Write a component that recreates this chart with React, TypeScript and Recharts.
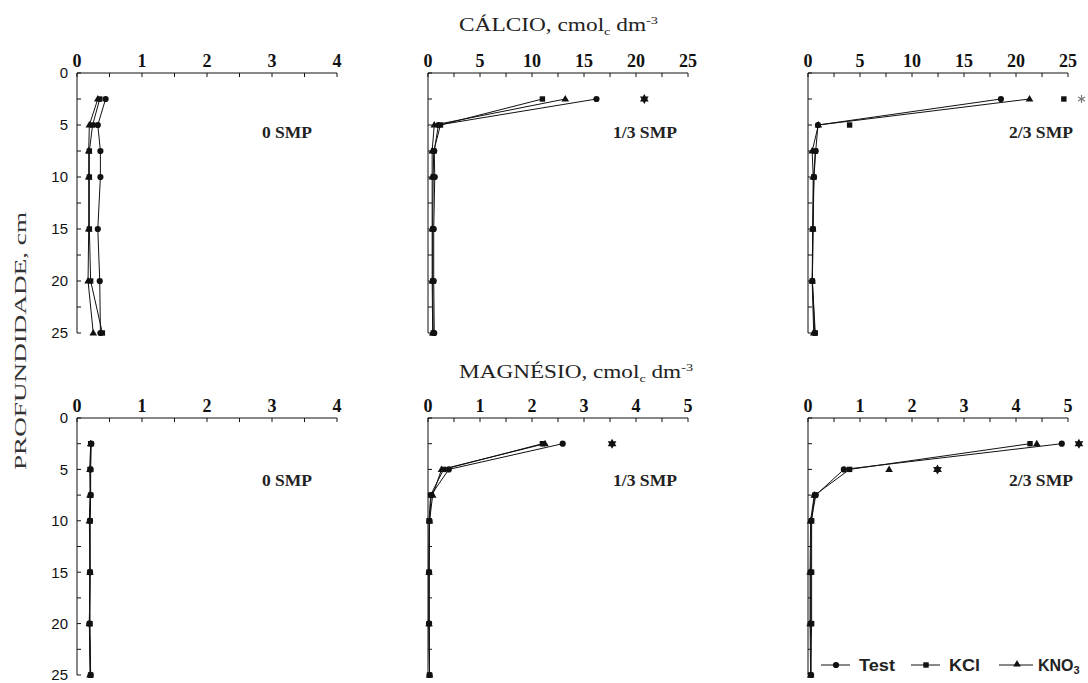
import React from 'react';
import { ScatterChart, Scatter, XAxis, YAxis, ReferenceDot } from 'recharts';

// profundidade (cm)
const depths = [2.5, 5, 7.5, 10, 15, 20, 25];
const depthTicks = [0, 2.5, 5, 7.5, 10, 12.5, 15, 17.5, 20, 22.5, 25];

const ticks4 = [0, 0.5, 1, 1.5, 2, 2.5, 3, 3.5, 4];
const ticks25 = [0, 2.5, 5, 7.5, 10, 12.5, 15, 17.5, 20, 22.5, 25];
const ticks5 = [0, 0.5, 1, 1.5, 2, 2.5, 3, 3.5, 4, 4.5, 5];

// Cálcio
const caTest0 = [0.44, 0.32, 0.36, 0.36, 0.32, 0.35, 0.36];
const caKcl0 = [0.35, 0.24, 0.19, 0.19, 0.19, 0.21, 0.39];
const caKno0 = [0.32, 0.19, 0.18, 0.18, 0.18, 0.17, 0.25];

const caTest13 = [16.2, 1.0, 0.6, 0.65, 0.55, 0.55, 0.6];
const caKcl13 = [11.0, 1.2, 0.55, 0.5, 0.45, 0.45, 0.5];
const caKno13 = [13.2, 0.6, 0.4, 0.4, 0.4, 0.4, 0.45];
const caStar13 = [20.8, null, null, null, null, null, null];

const caTest23 = [18.55, 0.96, 0.74, 0.58, 0.48, 0.42, 0.64];
const caKcl23 = [null, null, 0.7, 0.55, 0.48, 0.42, 0.7];
const caKclLoose23 = [24.6, 4.0, null, null, null, null, null];
const caKno23 = [21.3, 1.0, 0.4, 0.5, 0.45, 0.4, 0.55];
const caStar23 = [26.3, null, null, null, null, null, null];

// Magnésio
const mgTest0 = [0.22, 0.21, 0.21, 0.2, 0.2, 0.19, 0.21];
const mgKcl0 = [0.21, 0.2, 0.21, 0.2, 0.2, 0.2, 0.21];
const mgKno0 = [0.21, 0.2, 0.2, 0.19, 0.2, 0.19, 0.2];

const mgTest13 = [2.59, 0.4, 0.06, 0.03, 0.02, 0.02, 0.03];
const mgKcl13 = [2.2, 0.3, 0.05, 0.02, 0.02, 0.02, 0.03];
const mgKno13 = [2.25, 0.26, 0.09, 0.03, 0.02, 0.02, 0.03];
const mgStar13 = [3.54, null, null, null, null, null, null];

const mgTest23 = [4.88, 0.69, 0.15, 0.06, 0.05, 0.05, 0.06];
const mgKcl23 = [4.27, 0.8, 0.13, 0.07, 0.07, 0.07, 0.05];
const mgKno23 = [null, null, 0.12, 0.05, 0.04, 0.04, 0.05];
const mgKnoLoose23 = [4.4, 1.56, null, null, null, null, null];
const mgStar23 = [5.21, 2.49, null, null, null, null, null];

const INK = '#111';
const TM = 8; // tick margin

const toPoints = (vals) =>
  vals.map((v, i) => (v == null ? null : { v, depth: depths[i] })).filter(Boolean);

const Dot = ({ cx, cy }) => <circle cx={cx} cy={cy} r={3.1} fill={INK} />;
const Sq = ({ cx, cy }) => <rect x={cx - 2.7} y={cy - 2.7} width={5.4} height={5.4} fill={INK} />;
const Tri = ({ cx, cy }) => (
  <polygon points={`${cx},${cy - 4} ${cx + 3.8},${cy + 2.6} ${cx - 3.8},${cy + 2.6}`} fill={INK} />
);

const starPath = (cx, cy, ro, ri) => {
  const pts = [];
  for (let i = 0; i < 12; i++) {
    const r = i % 2 === 0 ? ro : ri;
    const a = (Math.PI / 6) * i - Math.PI / 2;
    pts.push(`${cx + r * Math.cos(a)},${cy + r * Math.sin(a)}`);
  }
  return pts.join(' ');
};
const Star = ({ cx, cy }) => <polygon points={starPath(cx, cy, 5, 2.9)} fill={INK} />;
const ThinStar = ({ cx, cy }) => (
  <g stroke="#777" strokeWidth={1.2}>
    {[0, 60, 120].map((a) => {
      const r = (a * Math.PI) / 180;
      return (
        <line key={a} x1={cx - 4 * Math.sin(r)} y1={cy - 4 * Math.cos(r)} x2={cx + 4 * Math.sin(r)} y2={cy + 4 * Math.cos(r)} />
      );
    })}
  </g>
);

const makeXTick = (majorStep) => (p) => {
  const ay = p.y + TM;
  const val = p.payload.value;
  const major = Math.abs(val / majorStep - Math.round(val / majorStep)) < 1e-6;
  return (
    <g>
      <line x1={p.x} x2={p.x} y1={ay} y2={ay + 4} stroke={INK} />
      {major && (
        <text x={p.x} y={ay - 6} textAnchor="middle" fontFamily="'Liberation Serif', 'Times New Roman', serif" fontWeight="bold" fontSize={18} fill={INK}>
          {val}
        </text>
      )}
    </g>
  );
};

const makeYTick = (showLabels) => (p) => {
  const ax = p.x + TM;
  const val = p.payload.value;
  return (
    <g>
      <line x1={ax} x2={ax + 4} y1={p.y} y2={p.y} stroke={INK} />
      {showLabels && val % 5 === 0 && (
        <text x={ax - 9} y={p.y} dy="0.36em" textAnchor="end" fontFamily="'Liberation Sans', Arial, sans-serif" fontSize={15} fill={INK}>
          {val}
        </text>
      )}
    </g>
  );
};

const PLOT_W = 260;
const YW = 40;
const XH = 30;

const Panel = ({ left, top, plotH, xMax, xTicks, majorStep, yLabels, test, kcl, kno, loose, looseShape, stars, thinStar }) => (
  <div style={{ position: 'absolute', left: left - YW, top: top - XH }}>
    <ScatterChart width={YW + PLOT_W + 30} height={XH + plotH + 20} margin={{ top: 0, right: 30, bottom: 20, left: 0 }}>
      <XAxis
        type="number"
        dataKey="v"
        orientation="top"
        domain={[0, xMax]}
        ticks={xTicks}
        interval={0}
        height={XH}
        tickSize={0}
        tickMargin={TM}
        tickLine={false}
        axisLine={{ stroke: INK }}
        tick={makeXTick(majorStep)}
      />
      <YAxis
        type="number"
        dataKey="depth"
        reversed
        domain={[0, 25]}
        ticks={depthTicks}
        interval={0}
        width={YW}
        tickSize={0}
        tickMargin={TM}
        tickLine={false}
        axisLine={{ stroke: INK }}
        tick={makeYTick(yLabels)}
      />
      <Scatter data={toPoints(kno)} shape={Tri} line={{ stroke: INK, strokeWidth: 1 }} isAnimationActive={false} />
      <Scatter data={toPoints(kcl)} shape={Sq} line={{ stroke: INK, strokeWidth: 1 }} isAnimationActive={false} />
      <Scatter data={toPoints(test)} shape={Dot} line={{ stroke: INK, strokeWidth: 1 }} isAnimationActive={false} />
      {loose && <Scatter data={toPoints(loose)} shape={looseShape} isAnimationActive={false} />}
      {stars &&
        toPoints(stars).map((s, i) => (
          <ReferenceDot key={i} x={s.v} y={s.depth} ifOverflow="visible" shape={thinStar ? ThinStar : Star} />
        ))}
    </ScatterChart>
  </div>
);

const serif = "'Liberation Serif', 'Times New Roman', serif";

export default function App() {
  return (
    <div style={{ position: 'absolute', left: 0, top: 0, width: 1088, height: 683, background: '#fff' }}>
      <Panel left={77} top={73} plotH={260} xMax={4} xTicks={ticks4} majorStep={1} yLabels test={caTest0} kcl={caKcl0} kno={caKno0} />
      <Panel left={428} top={73} plotH={260} xMax={25} xTicks={ticks25} majorStep={5} test={caTest13} kcl={caKcl13} kno={caKno13} stars={caStar13} />
      <Panel left={808} top={73} plotH={260} xMax={25} xTicks={ticks25} majorStep={5} test={caTest23} kcl={caKcl23} kno={caKno23} loose={caKclLoose23} looseShape={Sq} stars={caStar23} thinStar />
      <Panel left={77} top={418} plotH={257} xMax={4} xTicks={ticks4} majorStep={1} yLabels test={mgTest0} kcl={mgKcl0} kno={mgKno0} />
      <Panel left={428} top={418} plotH={257} xMax={5} xTicks={ticks5} majorStep={1} test={mgTest13} kcl={mgKcl13} kno={mgKno13} stars={mgStar13} />
      <Panel left={808} top={418} plotH={257} xMax={5} xTicks={ticks5} majorStep={1} test={mgTest23} kcl={mgKcl23} kno={mgKno23} loose={mgKnoLoose23} looseShape={Tri} stars={mgStar23} />

      <svg width={1088} height={683} style={{ position: 'absolute', left: 0, top: 0, pointerEvents: 'none' }}>
        <text x={459} y={31} fontFamily={serif} fontSize={18} fill="#222" textLength={199} lengthAdjust="spacingAndGlyphs">
          CÁLCIO, cmol<tspan fontSize={11} dy={4}>c</tspan>
          <tspan dy={-4}> dm</tspan>
          <tspan fontSize={11} dy={-7}>-3</tspan>
        </text>
        <text x={459} y={378} fontFamily={serif} fontSize={18} fill="#222" textLength={234} lengthAdjust="spacingAndGlyphs">
          MAGNÉSIO, cmol<tspan fontSize={11} dy={4}>c</tspan>
          <tspan dy={-4}> dm</tspan>
          <tspan fontSize={11} dy={-7}>-3</tspan>
        </text>
        <text
          transform="translate(26,341) rotate(-90)"
          textAnchor="middle"
          fontFamily={serif}
          fontSize={16}
          fill="#333"
          textLength={258}
          lengthAdjust="spacingAndGlyphs"
        >
          PROFUNDIDADE, cm
        </text>

        {[
          { x: 262, y: 138, t: '0 SMP', w: 50 },
          { x: 613, y: 138, t: '1/3 SMP', w: 64 },
          { x: 1009, y: 138, t: '2/3 SMP', w: 64 },
          { x: 262, y: 486, t: '0 SMP', w: 50 },
          { x: 613, y: 486, t: '1/3 SMP', w: 64 },
          { x: 1009, y: 486, t: '2/3 SMP', w: 64 },
        ].map((l, i) => (
          <text key={i} x={l.x} y={l.y} fontFamily={serif} fontWeight="bold" fontSize={17} fill="#222" textLength={l.w} lengthAdjust="spacingAndGlyphs">
            {l.t}
          </text>
        ))}

        {/* legenda */}
        <g fontFamily="'Liberation Sans', Arial, sans-serif" fontWeight="bold" fontSize={16} fill="#222">
          <line x1={821} x2={850} y1={665} y2={665} stroke={INK} />
          <Dot cx={836} cy={665} />
          <text x={859} y={671} textLength={36} lengthAdjust="spacingAndGlyphs">Test</text>
          <line x1={911} x2={940} y1={665} y2={665} stroke={INK} />
          <Sq cx={926} cy={665} />
          <text x={949} y={671} textLength={31} lengthAdjust="spacingAndGlyphs">KCl</text>
          <line x1={999} x2={1033} y1={665} y2={665} stroke={INK} />
          <Tri cx={1017} cy={664} />
          <text x={1038} y={671}>
            KNO<tspan fontSize={11} dy={3}>3</tspan>
          </text>
        </g>
      </svg>
    </div>
  );
}
